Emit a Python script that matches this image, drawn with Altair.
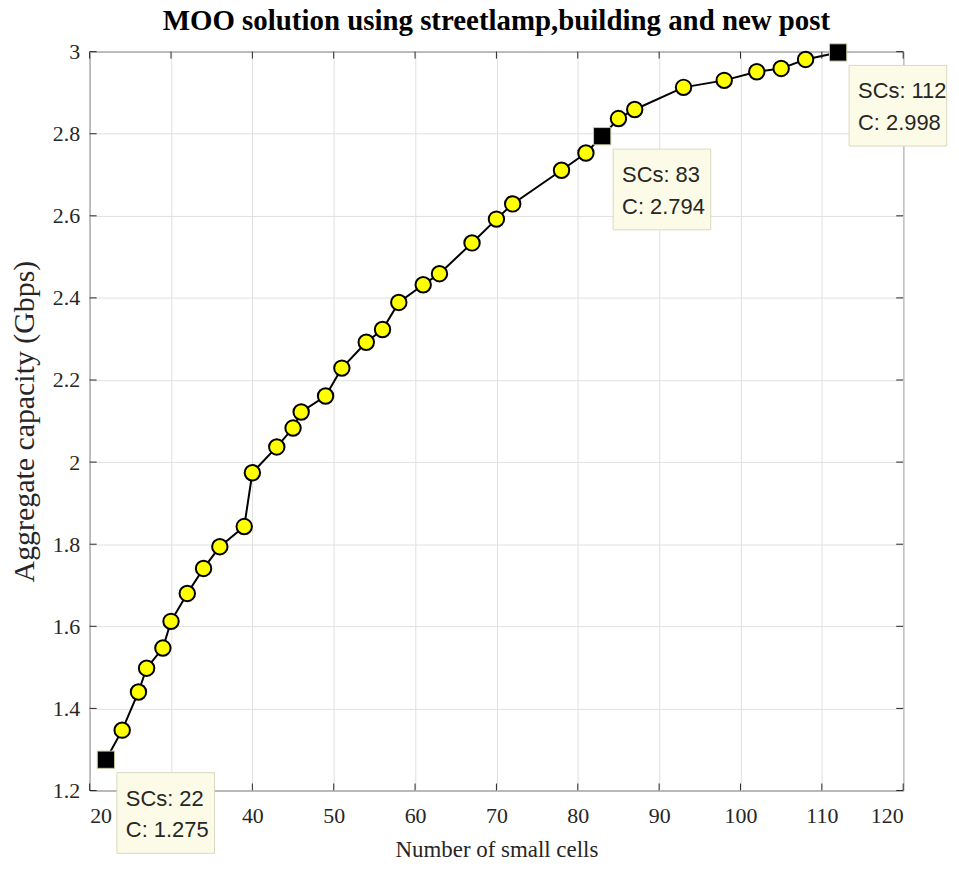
import altair as alt
import pandas as pd

# ---- data ----
sc = [22, 24, 26, 27, 29, 30, 32, 34, 36, 39, 40, 43, 45, 46, 49, 51, 54, 56,
      58, 61, 63, 67, 70, 72, 78, 81, 83, 85, 87, 93, 98, 102, 105, 108, 112]
cap = [1.275, 1.347, 1.440, 1.498, 1.547, 1.612, 1.680, 1.741, 1.794, 1.843,
       1.974, 2.037, 2.083, 2.122, 2.161, 2.229, 2.292, 2.323, 2.389, 2.432,
       2.459, 2.534, 2.592, 2.629, 2.711, 2.753, 2.794, 2.837, 2.859, 2.913,
       2.930, 2.951, 2.959, 2.981, 2.998]
hl_sc = [22, 83, 112]
hl_cap = [1.275, 2.794, 2.998]
hl_line1 = ["SCs: 22", "SCs: 83", "SCs: 112"]
hl_line2 = ["C: 1.275", "C: 2.794", "C: 2.998"]
x_ticks = [20, 30, 40, 50, 60, 70, 80, 90, 100, 110, 120]
y_ticks = [1.2, 1.4, 1.6, 1.8, 2.0, 2.2, 2.4, 2.6, 2.8, 3.0]

W, H = 817, 742
TICK = 7
SERIF = "Liberation Serif"
SANS = "Liberation Sans"
INK = "#262626"

df = pd.DataFrame({"sc": sc, "cap": cap})
df_pts = df[~df["sc"].isin(hl_sc)]
df_hl = pd.DataFrame({"sc": hl_sc, "cap": hl_cap, "l1": hl_line1, "l2": hl_line2})
df_xt = pd.DataFrame({"t": x_ticks})
df_yt = pd.DataFrame({"t": y_ticks})

xs = alt.Scale(domain=[20, 120], nice=False, zero=False)
ys = alt.Scale(domain=[1.2, 3.0], nice=False, zero=False)

x_axis = alt.Axis(values=x_ticks, title="Number of small cells", grid=True,
                  ticks=False, domain=False, labelPadding=15, titlePadding=12,
                  titleFontSize=23)
y_axis = alt.Axis(values=y_ticks, title="Aggregate capacity (Gbps)", grid=True,
                  ticks=False, domain=False, labelPadding=10, titlePadding=13,
                  titleFontSize=30, format=".1~f")

line = alt.Chart(df).mark_line(color="black", strokeWidth=2).encode(
    x=alt.X("sc:Q", scale=xs, axis=x_axis),
    y=alt.Y("cap:Q", scale=ys, axis=y_axis),
)

pts = alt.Chart(df_pts).mark_point(
    shape="circle", filled=True, fill="#ffff00", stroke="black",
    strokeWidth=2, size=240, opacity=1
).encode(
    x=alt.X("sc:Q", scale=xs),
    y=alt.Y("cap:Q", scale=ys),
)

sq = alt.Chart(df_hl).mark_point(
    shape="square", filled=True, fill="black", stroke="#c8c8a0",
    strokeWidth=1, size=300, opacity=1
).encode(
    x=alt.X("sc:Q", scale=xs),
    y=alt.Y("cap:Q", scale=ys),
)

box = alt.Chart(df_hl).mark_rect(
    fill="#fbfbe8", stroke="#d9d9c0", strokeWidth=1,
    xOffset=11, x2Offset=109, yOffset=13, y2Offset=94
).encode(
    x=alt.X("sc:Q", scale=xs),
    x2="sc:Q",
    y=alt.Y("cap:Q", scale=ys),
    y2="cap:Q",
)

t1 = alt.Chart(df_hl).mark_text(
    align="left", baseline="middle", dx=20, dy=39, font=SANS,
    fontSize=22, color=INK
).encode(
    x=alt.X("sc:Q", scale=xs),
    y=alt.Y("cap:Q", scale=ys),
    text="l1:N",
)
t2 = alt.Chart(df_hl).mark_text(
    align="left", baseline="middle", dx=20, dy=71, font=SANS,
    fontSize=22, color=INK
).encode(
    x=alt.X("sc:Q", scale=xs),
    y=alt.Y("cap:Q", scale=ys),
    text="l2:N",
)

# inward MATLAB-style ticks on all four sides
tick_style = dict(color=INK, strokeWidth=1)
xt_bottom = alt.Chart(df_xt).mark_rule(**tick_style).encode(
    x=alt.X("t:Q", scale=xs), y=alt.value(H), y2=alt.value(H - TICK))
xt_top = alt.Chart(df_xt).mark_rule(**tick_style).encode(
    x=alt.X("t:Q", scale=xs), y=alt.value(0), y2=alt.value(TICK))
yt_left = alt.Chart(df_yt).mark_rule(**tick_style).encode(
    y=alt.Y("t:Q", scale=ys), x=alt.value(0), x2=alt.value(TICK))
yt_right = alt.Chart(df_yt).mark_rule(**tick_style).encode(
    y=alt.Y("t:Q", scale=ys), x=alt.value(W), x2=alt.value(W - TICK))

chart = alt.layer(
    line, xt_bottom, xt_top, yt_left, yt_right, pts, sq, box, t1, t2
).properties(
    width=W, height=H,
    title=alt.Title("MOO solution using streetlamp,building and new post",
                    font=SERIF, fontSize=29, fontWeight="bold", color="black",
                    anchor="middle", offset=5),
    autosize=alt.AutoSizeParams(type="none"),
    padding={"left": 82, "top": 42, "right": 48, "bottom": 70},
).configure_view(
    stroke=INK, strokeWidth=1
).configure_axis(
    labelFont=SERIF, labelFontSize=22, labelColor=INK,
    titleFont=SERIF, titleColor=INK, titleFontWeight="normal",
    gridColor="#e0e0e0", gridWidth=1,
)

chart.save("out.html", embed_options={"renderer": "svg", "actions": False})
